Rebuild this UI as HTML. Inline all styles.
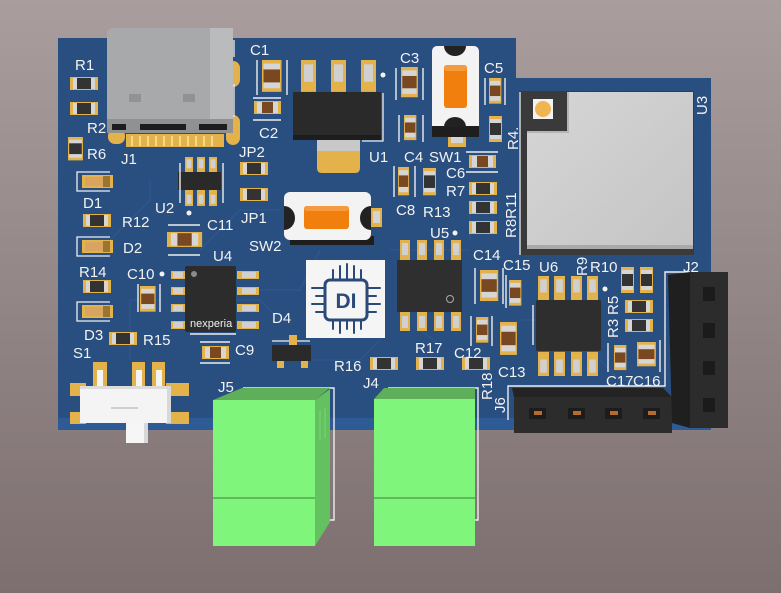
<!DOCTYPE html>
<html><head><meta charset="utf-8"><style>
html,body{margin:0;padding:0;width:781px;height:593px;overflow:hidden;background:#958888}
svg{display:block}
text{font-family:"Liberation Sans",sans-serif;fill:#f2f2f2;font-size:15px}
</style></head><body>
<svg xmlns="http://www.w3.org/2000/svg" width="781" height="593" viewBox="0 0 781 593">
<defs>
<linearGradient id="bg" x1="0" y1="0" x2="0" y2="1"><stop offset="0" stop-color="#a99d9d"/><stop offset="1" stop-color="#7d6f6f"/></linearGradient>
<linearGradient id="sh" x1="0" y1="0" x2="1" y2="1"><stop offset="0" stop-color="#d6d6d6"/><stop offset="1" stop-color="#c4c4c4"/></linearGradient>
<g id="rh"><rect width="28" height="13" fill="#e3b24a"/><rect x="3" y="1" width="22" height="11" fill="#d6d6d6"/><rect x="7" y="1" width="14" height="11" fill="#333"/></g>
<g id="rv"><rect width="13" height="26" fill="#e3b24a"/><rect x="1" y="3" width="11" height="20" fill="#d6d6d6"/><rect x="1" y="7" width="11" height="12" fill="#333"/></g>
<g id="ch"><rect width="27" height="13" fill="#e3b24a"/><rect x="3" y="1" width="21" height="11" fill="#d6d6d6"/><rect x="8" y="1" width="11" height="11" fill="#7a4820"/></g>
<g id="cv"><rect width="13" height="27" fill="#e3b24a"/><rect x="1" y="3" width="11" height="21" fill="#d6d6d6"/><rect x="1" y="8" width="11" height="11" fill="#7a4820"/></g>
<g id="led"><path d="M31 -3 H-2 V16 H31" fill="none" stroke="#eee" stroke-width="1.3"/><rect x="3" y="0" width="31" height="13" fill="#e3b24a"/><rect x="6" y="2" width="20" height="9" fill="#d9a460"/><rect x="24" y="1" width="7" height="11" fill="#9a7430"/></g>
<g id="pv"><rect width="10" height="22" fill="#e3b24a"/><rect x="2" y="3" width="6" height="12" fill="#d0d0d0"/></g>
<g id="ph"><rect width="22" height="8" fill="#e3b24a"/><rect x="3" y="1" width="14" height="6" fill="#d0d0d0"/></g>
</defs>

<rect width="781" height="593" fill="url(#bg)"/>

<!-- board -->
<path d="M58 38 H516 V78 H711 V430 H58 Z" fill="#294e80"/>
<rect x="58" y="418" width="653" height="12" fill="#2e5a95"/>
<g fill="none" stroke="#2f5689" stroke-width="1.6">
<path d="M160 300 H130 V360 M200 250 L240 210 H280 M260 290 H300 L320 250 M300 360 H360 L380 340 M470 240 V200 M390 250 H470 M560 250 H620 L640 230 M600 360 L620 380 H660 M110 240 L150 200 V180 M520 320 H540 M230 300 H260 L280 320 M420 330 L440 345 M150 100 V60"/>
</g>

<!-- J1 USB-C -->
<rect x="226" y="61" width="14" height="26" rx="7" fill="#e3b24a"/>
<rect x="226" y="115" width="14" height="30" rx="7" fill="#e3b24a"/>
<rect x="108" y="129" width="17" height="15" rx="7" fill="#e3b24a"/>
<rect x="126" y="134" width="98" height="13" fill="#e3b24a"/>
<g stroke="#f4d98a" stroke-width="2"><path d="M132 136 V146 M140 136 V146 M148 136 V146 M156 136 V146 M164 136 V146 M172 136 V146 M180 136 V146 M188 136 V146 M196 136 V146 M204 136 V146 M212 136 V146"/></g>
<path d="M107 34 Q107 28 113 28 H226 Q233 28 233 35 V133 H107 Z" fill="#a7a9ab"/>
<rect x="210" y="28" width="23" height="105" fill="#b9bbbd"/>
<rect x="107" y="119" width="126" height="14" fill="#8f9193"/>
<rect x="112" y="124" width="14" height="6" fill="#1d1d1d"/><rect x="140" y="124" width="46" height="6" fill="#1d1d1d"/><rect x="199" y="124" width="28" height="6" fill="#1d1d1d"/>
<rect x="129" y="94" width="12" height="8" fill="#909294"/><rect x="183" y="94" width="12" height="8" fill="#909294"/>
<path d="M234 40 V57 M234 84 V117" stroke="#eee" stroke-width="1.3"/>

<!-- left column parts -->
<use href="#rh" x="70" y="77"/>
<use href="#rh" x="70" y="102"/>
<use href="#rv" transform="translate(68,137) scale(1.15,0.9)"/>
<use href="#led" x="79" y="175"/>
<use href="#rh" x="83" y="214"/>
<use href="#led" x="79" y="240"/>
<use href="#rh" x="83" y="280"/>
<use href="#led" x="79" y="305"/>
<use href="#rh" x="109" y="332"/>

<!-- S1 -->
<rect x="93" y="362" width="14" height="24" fill="#e3b24a"/><rect x="97" y="370" width="6" height="16" fill="#f4f4f4"/>
<rect x="132" y="362" width="13" height="24" fill="#e3b24a"/><rect x="136" y="370" width="6" height="16" fill="#f4f4f4"/>
<rect x="152" y="362" width="13" height="24" fill="#e3b24a"/><rect x="156" y="370" width="6" height="16" fill="#f4f4f4"/>
<rect x="70" y="383" width="16" height="13" fill="#e3b24a"/><rect x="70" y="412" width="16" height="12" fill="#e3b24a"/>
<rect x="166" y="383" width="23" height="13" fill="#e3b24a"/><rect x="166" y="412" width="23" height="12" fill="#e3b24a"/>
<rect x="80" y="386" width="91" height="37" fill="#f4f4f4"/>
<rect x="80" y="386" width="91" height="3" fill="#dcdcdc"/><rect x="167" y="386" width="4" height="37" fill="#d8d8d8"/>
<path d="M111 408 H138" stroke="#aaa" stroke-width="1"/>
<rect x="126" y="423" width="22" height="20" fill="#f6f6f6"/><rect x="144" y="423" width="4" height="20" fill="#d8d8d8"/>

<!-- C1 C2 -->
<path d="M257 60 V95 M287 60 V95" stroke="#eee" stroke-width="1.4"/>
<use href="#cv" transform="translate(262,60) scale(1.5,1.18)"/>
<path d="M253 98 H281 M253 120 H281" stroke="#eee" stroke-width="1.4"/>
<use href="#ch" x="254" y="101"/>

<!-- U2 -->
<use href="#pv" transform="translate(185,157) scale(0.8,0.75)"/><use href="#pv" transform="translate(197,157) scale(0.8,0.75)"/><use href="#pv" transform="translate(209,157) scale(0.8,0.75)"/>
<use href="#pv" transform="translate(185,206) scale(0.8,-0.75)"/><use href="#pv" transform="translate(197,206) scale(0.8,-0.75)"/><use href="#pv" transform="translate(209,206) scale(0.8,-0.75)"/>
<rect x="178" y="172" width="43" height="18" fill="#2a2a2a"/>
<path d="M180 163 V203 M223 163 V203" stroke="#eee" stroke-width="1.4"/>
<circle cx="189" cy="213" r="2.5" fill="#f2f2f2"/>
<use href="#rh" x="240" y="162"/>
<use href="#rh" x="240" y="188"/>

<!-- C11 C10 U4 C9 -->
<path d="M168 225 H200 M168 255 H200" stroke="#eee" stroke-width="1.4"/>
<use href="#ch" transform="translate(167,232) scale(1.3,1.15)"/>
<path d="M138 284 V312 M160 284 V312" stroke="#eee" stroke-width="1.4"/>
<use href="#cv" transform="translate(140,286) scale(1.2,0.95)"/>
<circle cx="162" cy="274" r="2.5" fill="#f2f2f2"/>
<use href="#ph" transform="translate(171,271) scale(0.7,1)"/><use href="#ph" transform="translate(171,287) scale(0.7,1)"/><use href="#ph" transform="translate(171,304) scale(0.7,1)"/><use href="#ph" transform="translate(171,321) scale(0.7,1)"/>
<use href="#ph" transform="translate(259,271) scale(-1,1)"/><use href="#ph" transform="translate(259,287) scale(-1,1)"/><use href="#ph" transform="translate(259,304) scale(-1,1)"/><use href="#ph" transform="translate(259,321) scale(-1,1)"/>
<rect x="185" y="266" width="51" height="66" rx="2" fill="#2c2c2c"/>
<circle cx="194" cy="274" r="3" fill="#8a8a8a"/>
<text x="190" y="327" style="font-size:11px">nexperia</text>
<path d="M190 334 H236" stroke="#eee" stroke-width="1.4"/>
<path d="M200 342 H230 M200 363 H230" stroke="#eee" stroke-width="1.4"/>
<use href="#ch" x="202" y="346"/>

<!-- D4 -->
<path d="M272 341 H310" stroke="#eee" stroke-width="1.3"/>
<rect x="289" y="335" width="8" height="11" fill="#e3b24a"/>
<rect x="277" y="358" width="7" height="10" fill="#e3b24a"/><rect x="301" y="358" width="7" height="10" fill="#e3b24a"/>
<rect x="272" y="345" width="39" height="16" fill="#2a2a2a"/>

<!-- U1 -->
<use href="#pv" transform="translate(301,60) scale(1.5,1.45)"/><use href="#pv" transform="translate(331,60) scale(1.5,1.45)"/><use href="#pv" transform="translate(361,60) scale(1.5,1.45)"/>
<circle cx="383" cy="75" r="2.5" fill="#f2f2f2"/>
<path d="M317 150 H360 V168 Q360 173 355 173 H322 Q317 173 317 168 Z" fill="#e3b24a"/>
<rect x="317" y="136" width="43" height="15" fill="#c8c8c8"/>
<rect x="293" y="92" width="88" height="48" fill="#2a2a2a"/>
<rect x="293" y="135" width="88" height="5" fill="#1d1d1d"/>
<path d="M383 93 V141 H362" fill="none" stroke="#eee" stroke-width="1.3"/>

<!-- C3 C4 C5 R4 -->
<path d="M396 68 V100 M423 68 V100 M399 115 V142 M423 115 V142" stroke="#eee" stroke-width="1.4"/>
<use href="#cv" transform="translate(401,67) scale(1.3,1.12)"/>
<use href="#cv" transform="translate(404,115) scale(0.95,0.93)"/>
<path d="M485 78 V105 M505 78 V105" stroke="#eee" stroke-width="1.4"/>
<use href="#cv" transform="translate(489,78) scale(0.95,0.95)"/>
<use href="#rv" x="489" y="116"/>

<!-- SW1 -->
<rect x="448" y="133" width="18" height="14" fill="#e3b24a"/><rect x="451" y="135" width="12" height="8" fill="#d4d4d4"/>
<rect x="432" y="46" width="47" height="91" rx="5" fill="#f3f3f3"/>
<path d="M444 46 A11 10 0 0 0 466 46 Z" fill="#222"/>
<rect x="432" y="126" width="47" height="11" fill="#1e1e1e"/>
<path d="M444 127 A11 10 0 0 1 466 127 Z" fill="#222"/>
<rect x="444" y="65" width="23" height="43" rx="3" fill="#f07f0e"/>
<rect x="444" y="65" width="23" height="6" rx="3" fill="#f59a3e"/>

<!-- C6 R7 R11 R8 C8 R13 -->
<path d="M466 152 H498 M466 172 H498" stroke="#eee" stroke-width="1.4"/>
<use href="#ch" x="469" y="155"/>
<use href="#rh" x="469" y="182"/>
<use href="#rh" x="469" y="201"/>
<use href="#rh" x="469" y="221"/>
<path d="M394 166 V197 M415 166 V197" stroke="#eee" stroke-width="1.4"/>
<use href="#cv" transform="translate(398,167) scale(0.85,1.05)"/>
<use href="#rv" transform="translate(423,168) scale(1,1.05)"/>

<!-- SW2 -->
<rect x="371" y="208" width="11" height="19" fill="#e3b24a"/><rect x="373" y="211" width="7" height="12" fill="#d4d4d4"/>
<rect x="290" y="236" width="84" height="9" fill="#1e1e1e"/>
<rect x="284" y="192" width="87" height="48" rx="6" fill="#f3f3f3"/>
<path d="M284 206 A11 12 0 0 1 284 230 Z" fill="#222"/>
<path d="M371 206 A11 12 0 0 0 371 230 Z" fill="#222"/>
<rect x="304" y="206" width="45" height="23" rx="3" fill="#f07f0e"/>
<rect x="304" y="206" width="45" height="5" rx="3" fill="#f59a3e"/>

<!-- DI logo -->
<rect x="306" y="260" width="79" height="78" fill="#f5f5f5"/>
<g stroke="#2b4a78" stroke-width="2" fill="none" stroke-linecap="round">
<rect x="325" y="280" width="42" height="40" rx="5" stroke-width="3"/>
<path d="M333 279 V270 M340 279 V266 M347 279 V264 M354 279 V266 M361 279 V270"/>
<path d="M333 321 V329 M340 321 V333 M347 321 V329 M354 321 V333 M361 321 V329"/>
<path d="M324 288 H312 M324 296 H316 M324 304 H312 M324 312 H316"/>
<path d="M368 288 H380 M368 296 H376 M368 304 H380 M368 312 H376"/>
</g>
<text x="346" y="308" text-anchor="middle" style="font-size:21px;font-weight:bold;fill:#2b4a78">DI</text>

<!-- U5 -->
<use href="#pv" x="400" y="240"/><use href="#pv" x="417" y="240"/><use href="#pv" x="434" y="240"/><use href="#pv" x="451" y="240"/>
<use href="#pv" transform="translate(400,331) scale(1,-1)"/><use href="#pv" transform="translate(417,331) scale(1,-1)"/><use href="#pv" transform="translate(434,331) scale(1,-1)"/><use href="#pv" transform="translate(451,331) scale(1,-1)"/>
<rect x="397" y="260" width="65" height="52" fill="#2f2f2f"/>
<circle cx="450" cy="299" r="3.5" fill="none" stroke="#aaa" stroke-width="1"/>
<circle cx="455" cy="233" r="2.5" fill="#f2f2f2"/>

<!-- C14 C15 C13 etc -->
<path d="M475 268 V304 M503 268 V304" stroke="#eee" stroke-width="1.4"/>
<use href="#cv" transform="translate(480,270) scale(1.4,1.15)"/>
<path d="M506 275 V308" stroke="#eee" stroke-width="1.4"/>
<use href="#cv" transform="translate(509,280) scale(0.95,0.95)"/>
<path d="M471 316 V346 M492 316 V346" stroke="#eee" stroke-width="1.4"/>
<use href="#cv" transform="translate(476,317) scale(0.95,0.95)"/>
<use href="#cv" transform="translate(500,322) scale(1.3,1.22)"/>
<use href="#rh" x="462" y="357"/>
<use href="#rh" x="416" y="357"/>
<use href="#rh" x="370" y="357"/>

<!-- U6 -->
<use href="#pv" transform="translate(538,276) scale(1.1,1.1)"/><use href="#pv" transform="translate(554,276) scale(1.1,1.1)"/><use href="#pv" transform="translate(571,276) scale(1.1,1.1)"/><use href="#pv" transform="translate(587,276) scale(1.1,1.1)"/>
<use href="#pv" transform="translate(538,376) scale(1.1,-1.1)"/><use href="#pv" transform="translate(554,376) scale(1.1,-1.1)"/><use href="#pv" transform="translate(571,376) scale(1.1,-1.1)"/><use href="#pv" transform="translate(587,376) scale(1.1,-1.1)"/>
<rect x="536" y="300" width="65" height="51" rx="2" fill="#2e2e2e"/>
<path d="M533 305 V345" stroke="#eee" stroke-width="1.4"/>
<circle cx="605" cy="289" r="2.5" fill="#f2f2f2"/>
<use href="#rv" x="621" y="267"/>
<use href="#rv" x="640" y="267"/>
<use href="#rh" x="625" y="300"/>
<use href="#rh" x="625" y="319"/>
<path d="M608 343 V372 M660 340 V372" stroke="#eee" stroke-width="1.4"/>
<use href="#cv" transform="translate(614,345) scale(0.95,0.93)"/>
<use href="#cv" transform="translate(637,342) scale(1.45,0.9)"/>

<!-- U3 module -->
<rect x="519" y="91" width="175" height="164" fill="#3a3a3a"/>
<path d="M520 92 V255" stroke="#eee" stroke-width="1.3"/>
<path d="M568 92 H693 V249 H527 V132 H568 Z" fill="url(#sh)"/>
<path d="M527 245 H693 V249 H527 Z" fill="#a9a9a9"/>
<path d="M527 132 H568 V92" fill="none" stroke="#b5b5b5" stroke-width="2"/>
<rect x="533" y="99" width="20" height="20" fill="#f2f2f2"/>
<circle cx="543" cy="109" r="8" fill="#f0b450"/>

<!-- J6 header -->
<path d="M508 420 V386 H665 V272 H690" fill="none" stroke="#eee" stroke-width="1.4"/>
<path d="M512 388 H663 L672 397 H514 Z" fill="#232323"/>
<rect x="514" y="397" width="158" height="36" fill="#2c2c2c"/>
<g fill="#1c1c1c"><rect x="529" y="408" width="17" height="11"/><rect x="568" y="408" width="17" height="11"/><rect x="605" y="408" width="17" height="11"/><rect x="643" y="408" width="17" height="11"/></g>
<g fill="#b46d2c"><rect x="534" y="411" width="8" height="4"/><rect x="573" y="411" width="8" height="4"/><rect x="610" y="411" width="8" height="4"/><rect x="648" y="411" width="8" height="4"/></g>

<!-- J2 header -->
<path d="M668 275 L690 272 V428 L672 423 Z" fill="#1f1f1f"/>
<rect x="690" y="272" width="38" height="156" fill="#2c2c2c"/>
<g fill="#1b1b1b"><rect x="703" y="287" width="12" height="14"/><rect x="703" y="323" width="12" height="15"/><rect x="703" y="361" width="12" height="14"/><rect x="703" y="398" width="12" height="14"/></g>

<!-- J5 terminal -->
<path d="M243 388 H334 V520 H330" fill="none" stroke="#eee" stroke-width="1.4"/>
<path d="M213 400 L242 388 H330 L315 400 Z" fill="#5fae5a"/>
<path d="M315 400 L330 389 V522 L315 546 Z" fill="#63c15f"/>
<rect x="213" y="400" width="102" height="146" fill="#80f57c"/>
<path d="M213 498 H315" stroke="#55a552" stroke-width="1.5"/>
<path d="M320 410 V440 M325 408 V438" stroke="#78d874" stroke-width="1"/>

<!-- J4 terminal -->
<path d="M388 388 H478 V520 H475" fill="none" stroke="#eee" stroke-width="1.4"/>
<path d="M374 399 L384 388 H475 V399 Z" fill="#5fae5a"/>
<rect x="374" y="399" width="101" height="147" fill="#80f57c"/>
<path d="M374 498 H475" stroke="#55a552" stroke-width="1.5"/>

<!-- labels -->
<text x="75" y="70">R1</text>
<text x="87" y="133">R2</text>
<text x="87" y="159">R6</text>
<text x="121" y="164">J1</text>
<text x="250" y="55">C1</text>
<text x="259" y="138">C2</text>
<text x="239" y="157">JP2</text>
<text x="83" y="208">D1</text>
<text x="155" y="213">U2</text>
<text x="122" y="227">R12</text>
<text x="207" y="230">C11</text>
<text x="241" y="223">JP1</text>
<text x="123" y="253">D2</text>
<text x="249" y="251">SW2</text>
<text x="213" y="261">U4</text>
<text x="79" y="277">R14</text>
<text x="127" y="279">C10</text>
<text x="84" y="340">D3</text>
<text x="143" y="345">R15</text>
<text x="73" y="358">S1</text>
<text x="235" y="355">C9</text>
<text x="272" y="323">D4</text>
<text x="218" y="392">J5</text>
<text x="400" y="63">C3</text>
<text x="484" y="73">C5</text>
<text x="369" y="162">U1</text>
<text x="404" y="162">C4</text>
<text x="429" y="162">SW1</text>
<text x="446" y="178">C6</text>
<text x="446" y="196">R7</text>
<text x="396" y="215">C8</text>
<text x="423" y="217">R13</text>
<text x="430" y="238">U5</text>
<text x="473" y="260">C14</text>
<text x="503" y="270">C15</text>
<text x="539" y="272">U6</text>
<text x="590" y="272">R10</text>
<text x="683" y="272">J2</text>
<text x="415" y="353">R17</text>
<text x="454" y="358">C12</text>
<text x="334" y="371">R16</text>
<text x="498" y="377">C13</text>
<text x="363" y="388">J4</text>
<text x="606" y="386">C17</text>
<text x="633" y="386">C16</text>
<text transform="translate(518,150) rotate(-90)">R4.</text>
<text transform="translate(516,238) rotate(-90)">R8R11</text>
<text transform="translate(707,115) rotate(-90)">U3</text>
<text transform="translate(587,276) rotate(-90)">R9</text>
<text transform="translate(618,315) rotate(-90)">R5</text>
<text transform="translate(618,338) rotate(-90)">R3</text>
<text transform="translate(492,400) rotate(-90)">R18</text>
<text transform="translate(505,413) rotate(-90)">J6</text>
</svg>
</body></html>
